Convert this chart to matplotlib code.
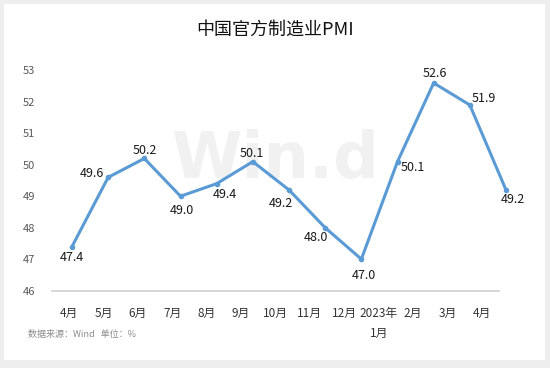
import matplotlib
matplotlib.use("Agg")
import matplotlib.pyplot as plt
from matplotlib.patches import Rectangle

plt.rcParams['font.family'] = ['Noto Sans CJK SC', 'DejaVu Sans']

# ---- data ----
categories = ["4月", "5月", "6月", "7月", "8月", "9月", "10月", "11月", "12月",
              "2023年\n1月", "2月", "3月", "4月"]
pmi = [47.4, 49.6, 50.2, 49.0, 49.4, 50.1, 49.2, 48.0, 47.0, 50.1, 52.6, 51.9, 49.2]
yticks = [46, 47, 48, 49, 50, 51, 52, 53]
title = "中国官方制造业PMI"
source = "数据来源：Wind   单位：%"

# label offsets in points (styling)
label_offsets = [(0, -8), (-12, 3), (0, 6), (1, -10), (6, -8), (-1, 6), (-6, -10),
                 (-7, -7), (2, -12), (11, -4), (1, 7), (10, 5), (5, -7)]

W, H = 550, 368
fig = plt.figure(figsize=(W / 100, H / 100), dpi=100)
fig.patch.set_facecolor("#eeeeee")
fig.patches.append(Rectangle((4 / W, 1 - 360 / H), 541 / W, 356 / H,
                             transform=fig.transFigure, facecolor="white",
                             edgecolor="none", zorder=-5))

left, right = 52 / W, 499 / W
bottom, top = 1 - 290.6 / H, 1 - 70.4 / H
ax = fig.add_axes([left, bottom, right - left, top - bottom])
ax.set_facecolor("none")
n = len(categories)
ax.set_xlim(-0.5, n - 0.5)
ax.set_ylim(46, 53)
ax.set_xticks(range(n))
ax.set_xticklabels(categories, fontsize=8.5, color="#333333", linespacing=1.7, va="top")
ax.set_yticks(yticks)
ax.set_yticklabels([str(v) for v in yticks], fontsize=8, color="#595959")
ax.tick_params(axis="both", length=0)
ax.tick_params(axis="x", pad=12)
ax.tick_params(axis="y", pad=12)
for s in ["top", "right", "left"]:
    ax.spines[s].set_visible(False)
ax.spines["bottom"].set_color("#d0d0d0")
ax.spines["bottom"].set_linewidth(1.2)

# watermark
ax.text(275 / W, 1 - 160 / H, "Win.d", fontsize=46, fontweight="bold",
        color="#f1f1f1", ha="center", va="center", family="DejaVu Sans",
        transform=fig.transFigure, zorder=0)

# line on a twin x axis (points are spaced slightly differently from the categories)
ax2 = ax.twiny()
ax2.set_facecolor("none")
px_per_unit = 434 / 12
xmin = -20 / px_per_unit
ax2.set_xlim(xmin, xmin + 447 / px_per_unit)
ax2.set_ylim(46, 53)
ax2.axis("off")
xs = list(range(n))
ax2.plot(xs, pmi, color="#5b9bd5", linewidth=2.2, marker="o", markersize=3,
         clip_on=False, zorder=3)
for x, v, (dx, dy) in zip(xs, pmi, label_offsets):
    ax2.annotate(f"{v:.1f}", (x, v), xytext=(dx, dy), textcoords="offset points",
                 ha="center", va="center", fontsize=9, color="#1a1a1a",
                 annotation_clip=False)

fig.text(275 / W, 1 - 30 / H, title, fontsize=13, ha="center", va="center", color="#111111")
fig.text(28 / W, 1 - 334 / H, source, fontsize=6.5, ha="left", va="center", color="#8c8c8c")

fig.savefig("out.png", dpi=100, facecolor=fig.get_facecolor())
